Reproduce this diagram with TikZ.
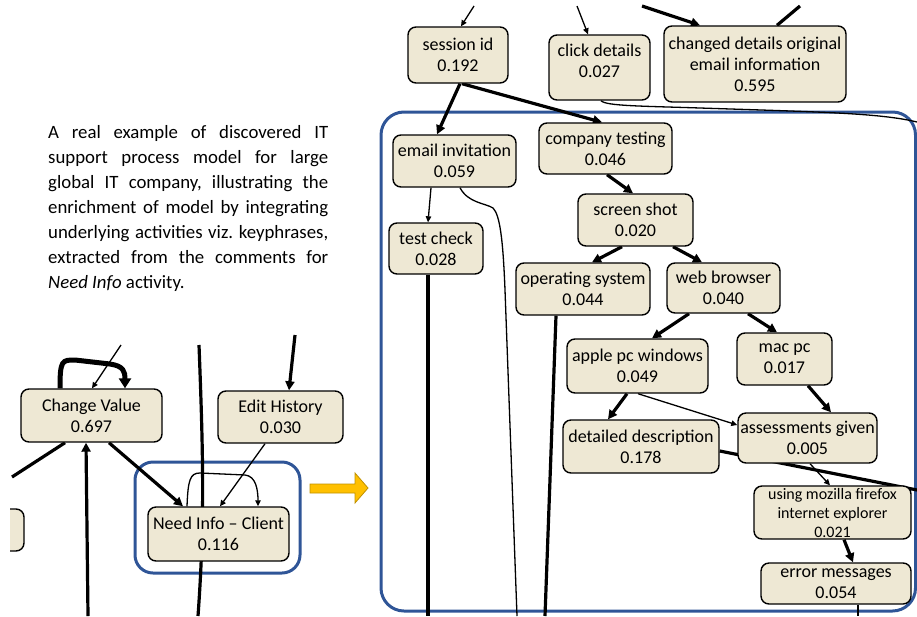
\documentclass[tikz,border=0pt]{standalone}
\usepackage{fontspec}
\setmainfont{Carlito}
\usetikzlibrary{arrows.meta,calc}
\definecolor{nodefill}{RGB}{238,232,212}
\definecolor{frameblue}{RGB}{47,85,151}
\definecolor{arrowyellow}{RGB}{255,192,0}
\definecolor{arrowedge}{RGB}{191,144,0}
\pgfdeclarelayer{bg}
\pgfsetlayers{bg,main}
\begin{document}
\frenchspacing
\begin{tikzpicture}[x=1pt,y=-1pt,
  box/.style={draw=black, line width=1.4pt, fill=nodefill, rounded corners=8pt, align=center, inner sep=0pt, font=\fontsize{18}{21}\selectfont},
  smallbox/.style={box, font=\fontsize{16}{19}\selectfont},
  frame/.style={draw=frameblue, line width=3pt},
  heavy/.style={line width=3.2pt},
  heavyarrow/.style={line width=3.2pt, -{Triangle[length=9pt,width=9pt]}},
  thin/.style={line width=1.3pt},
  thinarrow/.style={line width=1.3pt, -{Triangle[length=6pt,width=5.5pt]}},
  loopthick/.style={line width=5pt, -{Triangle[length=10pt,width=12pt]}},
  desc/.style={text width=280pt, align=justify, inner sep=0pt, font=\fontsize{18.8}{25}\selectfont}
]
\useasboundingbox (0,0) rectangle (917,616);
\clip (0,0) rectangle (917,616);

% ---------- description ----------
\node[desc, anchor=north west] (desc) at (48,125) {A real example of discovered IT\linebreak support process model for large\linebreak global IT company, illustrating the\linebreak enrichment of model by integrating\linebreak underlying activities viz. keyphrases,\linebreak extracted from the comments for\linebreak \textit{Need Info} activity.};

% ---------- free ends ----------
\coordinate (t1) at (474,6);
\coordinate (t2) at (577,6);
\coordinate (t3) at (642,6);
\coordinate (t4) at (800,6);
\coordinate (r1) at (917,122);
\coordinate (b1) at (428,616);
\coordinate (b2) at (517,616);
\coordinate (b3) at (545,616);
\coordinate (r2) at (917,490);
\coordinate (b4) at (858,616);
\coordinate (l1) at (121,345);
\coordinate (l2) at (12,477);
\coordinate (l3) at (88,616);
\coordinate (l4) at (199,345);
\coordinate (l5) at (198,616);
\coordinate (l6) at (295,335);

% ---------- nodes ----------
\begin{scope}
\clip (10,0) rectangle (380,616);
\node[box, minimum width=60pt, minimum height=42pt] (part) at (-6,530) {};
\end{scope}

\node[box, minimum width=100pt, minimum height=56pt] (sess) at (458,55) {session id\\0.192};
\node[box, minimum width=101pt, minimum height=65pt] (click) at (599.5,67.5) {click details\\0.027\\[-8pt]~};
\node[box, minimum width=182pt, minimum height=76pt] (changed) at (755,64) {changed details original\\email information\\0.595};
\node[box, minimum width=123pt, minimum height=52pt] (emailinv) at (454.5,161) {email invitation\\0.059};
\node[box, minimum width=133pt, minimum height=51pt] (company) at (605.5,148.5) {company testing\\0.046};
\node[box, minimum width=115pt, minimum height=52pt] (screenshot) at (635.5,220) {screen shot\\0.020};
\node[box, minimum width=94pt, minimum height=51pt] (testcheck) at (436,248.5) {test check\\0.028};
\node[box, minimum width=134pt, minimum height=52pt] (opsys) at (583,289) {operating system\\0.044};
\node[box, minimum width=113pt, minimum height=50pt] (webbrowser) at (723.5,288) {web browser\\0.040};
\node[box, minimum width=141pt, minimum height=54pt] (apple) at (637.5,366) {apple pc windows\\0.049};
\node[box, minimum width=95pt, minimum height=52pt] (macpc) at (784.5,359) {mac pc\\0.017};
\node[box, minimum width=139pt, minimum height=50pt] (assess) at (807.5,438) {assessments given\\0.005};
\node[box, minimum width=156pt, minimum height=53pt] (detailed) at (641,446.5) {detailed description\\0.178};
\node[smallbox, minimum width=157pt, minimum height=53pt] (mozilla) at (832.5,512.5) {using mozilla firefox\\internet explorer\\0.021};
\node[box, minimum width=150pt, minimum height=41pt] (errmsg) at (836,583.5) {error messages\\0.054};
\node[box, minimum width=141pt, minimum height=53pt] (changeval) at (91.5,415.5) {Change Value\\0.697};
\node[box, minimum width=125pt, minimum height=52pt] (edithist) at (280.5,417) {Edit History\\0.030};
\node[box, minimum width=141pt, minimum height=54pt] (needinfo) at (218.5,534) {Need Info – Client\\0.116};

\begin{pgfonlayer}{bg}
% ---------- frames ----------
\draw[frame, rounded corners=18pt] (135,462) rectangle (300,573);
\draw[frame, rounded corners=23pt] (381,112) rectangle (915.5,611);

% ---------- yellow arrow ----------
\draw[fill=arrowyellow, draw=arrowedge, line width=0.8pt]
  (310,484) -- (355,484) -- (355,473) -- (368,488) -- (355,503) -- (355,493) -- (310,493) -- cycle;

% ---------- connectors (right panel) ----------
\draw[thinarrow] (t1) -- ([xshift=3pt]sess.north);
\draw[thinarrow] (t2) -- ([xshift=-11.5pt]click.north);
\draw[heavyarrow] (t3) -- ([xshift=-55pt]changed.north);
\draw[heavy] ([xshift=22pt]changed.north) -- (t4);
\draw[heavyarrow] ([xshift=2pt]sess.south) -- ([xshift=-17.5pt]emailinv.north);
\draw[heavyarrow] ([xshift=4pt]sess.south) -- ([xshift=-3.5pt]company.north);
\draw[thin] ([xshift=1.5pt]click.south) .. controls (606,106) and (640,106) .. (700,108) .. controls (820,112) and (880,113) .. (r1);
\draw[heavyarrow] ([xshift=1.5pt]company.south) -- ([xshift=-2.5pt]screenshot.north);
\draw[thinarrow] ([xshift=-23.5pt]emailinv.south) -- ([xshift=-8pt]testcheck.north);
\draw[thin] ([xshift=5.5pt]emailinv.south) .. controls (468,203) and (485,203) .. (493,208) .. controls (500,215) and (503,240) .. (505,290) -- (b2);
\draw[heavyarrow] ([xshift=-13.5pt]screenshot.south) -- ([xshift=9pt]opsys.north);
\draw[heavyarrow] ([xshift=37.5pt]screenshot.south) -- ([xshift=-21.5pt]webbrowser.north);
\draw[heavy] ([xshift=-8pt]testcheck.south) -- (b1);
\draw[heavy] ([xshift=-27pt]opsys.south) -- (b3);
\draw[heavyarrow] ([xshift=-34.5pt]webbrowser.south) -- ([xshift=14.5pt]apple.north);
\draw[heavyarrow] ([xshift=24.5pt]webbrowser.south) -- ([xshift=-7.5pt]macpc.north);
\draw[heavyarrow] ([xshift=23.5pt]macpc.south) -- ([xshift=23.5pt]assess.north);
\draw[thinarrow] ([xshift=0.5pt]apple.south) -- ([yshift=13pt]assess.west);
\draw[heavyarrow] ([xshift=-10.5pt]apple.south) -- ([xshift=-33pt]detailed.north);
\draw[heavy] ([yshift=-4.5pt]detailed.east) -- (r2);
\draw[thinarrow] ([xshift=2.5pt]assess.south) -- ([xshift=-2.5pt]mozilla.north);
\draw[heavyarrow] ([xshift=11.5pt]mozilla.south) -- ([xshift=17pt]errmsg.north);
\draw[thin] ([xshift=22pt]errmsg.south) -- (b4);

% ---------- connectors (left panel) ----------
\draw[loopthick] ([xshift=-31.5pt]changeval.north) .. controls (60,360) and (62,360) .. (75,360) -- (110,364) .. controls (124,366) and (125,372) .. ([xshift=33.5pt]changeval.north);
\draw[thinarrow] (l1) -- ([xshift=0.5pt]changeval.north);
\draw[heavy] ([xshift=-26.5pt]changeval.south) -- (l2);
\draw[heavyarrow] (l3) -- ([xshift=-5.5pt]changeval.south);
\draw[heavyarrow] ([xshift=17.5pt]changeval.south) -- ([xshift=-35.5pt]needinfo.north);
\draw[thinarrow] ([xshift=-15.5pt]edithist.south) -- ([xshift=1.5pt]needinfo.north);
\draw[thinarrow] ([xshift=-31.5pt]needinfo.north) .. controls (188,480) and (190,473) .. (200,473) -- (245,475) .. controls (256,476) and (258,490) .. ([xshift=39.5pt]needinfo.north);
\draw[heavy] (l4) .. controls (203,450) and (205,520) .. (l5);
\draw[heavyarrow] (l6) -- ([xshift=8.5pt]edithist.north);
\end{pgfonlayer}
\end{tikzpicture}
\end{document}
